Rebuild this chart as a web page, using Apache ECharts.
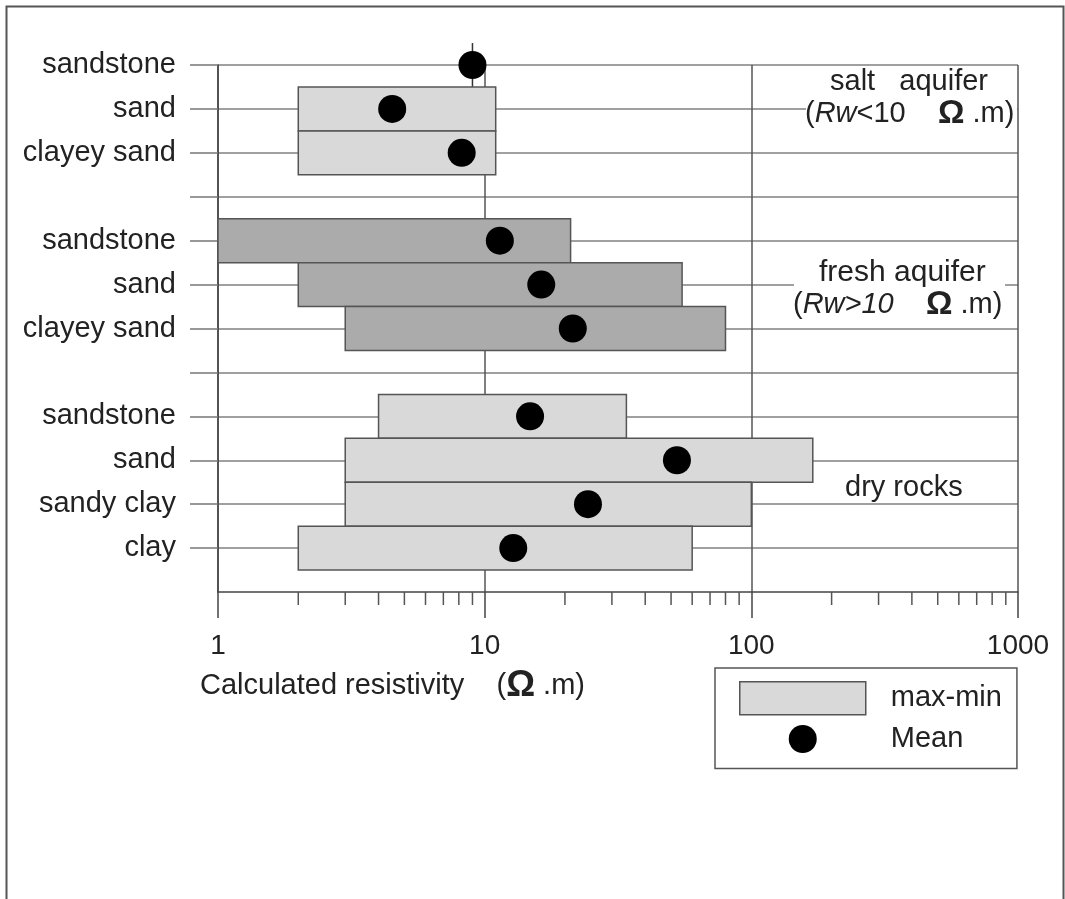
<!DOCTYPE html>
<html>
<head>
<meta charset="utf-8">
<script src="https://cdn.jsdelivr.net/npm/echarts@6/dist/echarts.min.js"></script>
<style>
html,body{margin:0;padding:0;background:#fff;}
#chart{width:1065px;height:899px;}
</style>
</head>
<body>
<div id="chart"></div>
<script>
// Rows listed from top to bottom; null marks an empty separator row
const categories = ['sandstone', 'sand', 'clayey sand', null, 'sandstone', 'sand', 'clayey sand', null, 'sandstone', 'sand', 'sandy clay', 'clay'];
const groups     = ['salt', 'salt', 'salt', null, 'fresh', 'fresh', 'fresh', null, 'dry', 'dry', 'dry', 'dry'];
const minValues  = [9, 2, 2, null, 1, 2, 3, null, 4, 3, 3, 2];
const maxValues  = [9, 11, 11, null, 21, 55, 80, null, 34, 170, 100, 60];
const meanValues = [9, 4.5, 8.2, null, 11.4, 16.3, 21.4, null, 14.8, 52.6, 24.4, 12.8];
const minorTickValues = [2, 3, 4, 5, 6, 7, 8, 9, 20, 30, 40, 50, 60, 70, 80, 90, 200, 300, 400, 500, 600, 700, 800, 900];

const nRows = categories.length;
const rowY = i => nRows - i;           // top row -> 12, bottom row -> 1
const yLabels = [''];
for (let v = 1; v <= nRows; v++) yLabels.push(categories[nRows - v] || '');
const yValues = [];
for (let v = 1; v <= nRows; v++) yValues.push(v);

const barData = [];
const meanData = [];
categories.forEach((c, i) => {
  if (c === null) return;
  barData.push([minValues[i], maxValues[i], rowY(i), groups[i] === 'fresh' ? 1 : 0]);
  meanData.push([meanValues[i], rowY(i)]);
});

const FONT = '"Liberation Sans", Arial, Helvetica, sans-serif';
const TXT = '#222';
const LIGHT = '#d9d9d9';
const DARK = '#ababab';
const richAnn = {
  i: {fontStyle: 'italic', fontSize: 29, fontFamily: FONT, fill: TXT},
  o: {fontWeight: 'bold', fontSize: 33, fontFamily: FONT, fill: TXT}
};

const chart = echarts.init(document.getElementById('chart'), null, {renderer: 'canvas'});
chart.setOption({
  animation: false,
  backgroundColor: '#fff',
  textStyle: {fontFamily: FONT, color: TXT},
  grid: {left: 218, right: 47, top: 65, bottom: 307, containLabel: false},
  title: {
    left: 200, top: 668, padding: 0,
    text: 'Calculated resistivity    ({o|Ω} .m)',
    textStyle: {
      fontFamily: FONT, fontSize: 29, fontWeight: 'normal', color: TXT,
      rich: {o: {fontFamily: FONT, fontSize: 36, fontWeight: 'bold', color: TXT}}
    }
  },
  legend: {
    orient: 'vertical',
    left: 715, top: 668,
    padding: [13, 15, 13, 24],
    itemWidth: 126, itemHeight: 33, itemGap: 7,
    borderColor: '#555', borderWidth: 1.5,
    textStyle: {fontFamily: FONT, fontSize: 29, color: TXT, padding: [0, 0, 0, 20]},
    selectedMode: false,
    data: [
      {name: 'max-min', icon: 'rect', itemStyle: {color: LIGHT, borderColor: '#555', borderWidth: 1.5}},
      {name: 'Mean', icon: 'path://M0,0L0,0M33,33L33,33M30.5,16.5A14,14,0,1,1,2.5,16.5A14,14,0,1,1,30.5,16.5Z', itemStyle: {color: '#000', opacity: 1}}
    ]
  },
  xAxis: {
    type: 'log', logBase: 10, min: 1, max: 1000,
    axisLine: {show: true, lineStyle: {color: '#444', width: 1.5}},
    axisTick: {show: true, length: 26, lineStyle: {color: '#444', width: 1.5}},
    axisLabel: {show: true, fontSize: 28, color: TXT, margin: 40, fontFamily: FONT,
      formatter: v => String(v)},
    splitLine: {show: true, lineStyle: {color: '#555', width: 1.5}},
    minorTick: {show: false}
  },
  yAxis: {
    type: 'value', min: 0, max: nRows, interval: 1,
    axisLine: {show: true, lineStyle: {color: '#444', width: 1.5}},
    axisTick: {show: true, length: 28, customValues: yValues, lineStyle: {color: '#777', width: 1.5}},
    axisLabel: {show: true, fontSize: 29, color: TXT, margin: 42, fontFamily: FONT,
      customValues: yValues, formatter: v => yLabels[Math.round(v)] || ''},
    splitLine: {show: true, lineStyle: {color: '#808080', width: 1.5}}
  },
  series: [
    {
      name: 'max-min',
      type: 'custom',
      coordinateSystem: 'cartesian2d',
      encode: {x: [0, 1], y: 2},
      data: barData,
      z: 2,
      renderItem: function (params, api) {
        const lo = api.value(0), hi = api.value(1), y = api.value(2);
        const p1 = api.coord([lo, y + 0.5]);
        const p2 = api.coord([hi, y - 0.5]);
        if (hi <= lo) {
          return {type: 'line', shape: {x1: p1[0], y1: p1[1], x2: p1[0], y2: p2[1]},
            style: {stroke: '#333', lineWidth: 1.5}};
        }
        return {
          type: 'rect',
          shape: {x: p1[0], y: p1[1], width: p2[0] - p1[0], height: p2[1] - p1[1]},
          style: {fill: api.value(3) ? DARK : LIGHT, stroke: '#555', lineWidth: 1.5}
        };
      },
      itemStyle: {color: LIGHT}
    },
    {
      name: 'Mean',
      type: 'scatter',
      data: meanData,
      symbol: 'circle',
      symbolSize: 28,
      itemStyle: {color: '#000', opacity: 1},
      z: 5
    },
    {
      name: 'minorTicks',
      type: 'custom',
      coordinateSystem: 'cartesian2d',
      encode: {x: 0},
      data: minorTickValues.map(v => [v]),
      silent: true,
      renderItem: function (params, api) {
        const p = api.coord([api.value(0), 0]);
        return {type: 'line', shape: {x1: p[0], y1: p[1], x2: p[0], y2: p[1] + 13},
          style: {stroke: '#555', lineWidth: 1.5}};
      }
    }
  ],
  graphic: [
    {type: 'rect', left: 4, top: 4, shape: {width: 1057, height: 1000}, style: {fill: 'none', stroke: '#555', lineWidth: 2}, silent: true},
    {type: 'rect', shape: {x: 806, y: 100, width: 211, height: 22}, style: {fill: '#fff'}, silent: true, z: 10},
    {type: 'rect', shape: {x: 794, y: 272, width: 211, height: 26}, style: {fill: '#fff'}, silent: true, z: 10},
    {type: 'text', x: 830, y: 82, z: 11, style: {text: 'salt   aquifer', font: '29px ' + FONT, fill: TXT, verticalAlign: 'middle', align: 'left'}},
    {type: 'text', x: 805, y: 114, z: 11, style: {
      text: '({i|Rw}<10    {o|Ω} .m)', font: '29px ' + FONT, fill: TXT, verticalAlign: 'middle', align: 'left', rich: richAnn
    }},
    {type: 'text', x: 819, y: 273, z: 11, style: {text: 'fresh aquifer', font: '30px ' + FONT, fill: TXT, verticalAlign: 'middle', align: 'left'}},
    {type: 'text', x: 793, y: 305, z: 11, style: {
      text: '({i|Rw>10}    {o|Ω} .m)', font: '29px ' + FONT, fill: TXT, verticalAlign: 'middle', align: 'left', rich: richAnn
    }},
    {type: 'text', x: 845, y: 488, z: 11, style: {text: 'dry rocks', font: '29px ' + FONT, fill: TXT, verticalAlign: 'middle', align: 'left'}}
  ]
});
</script>
</body>
</html>
